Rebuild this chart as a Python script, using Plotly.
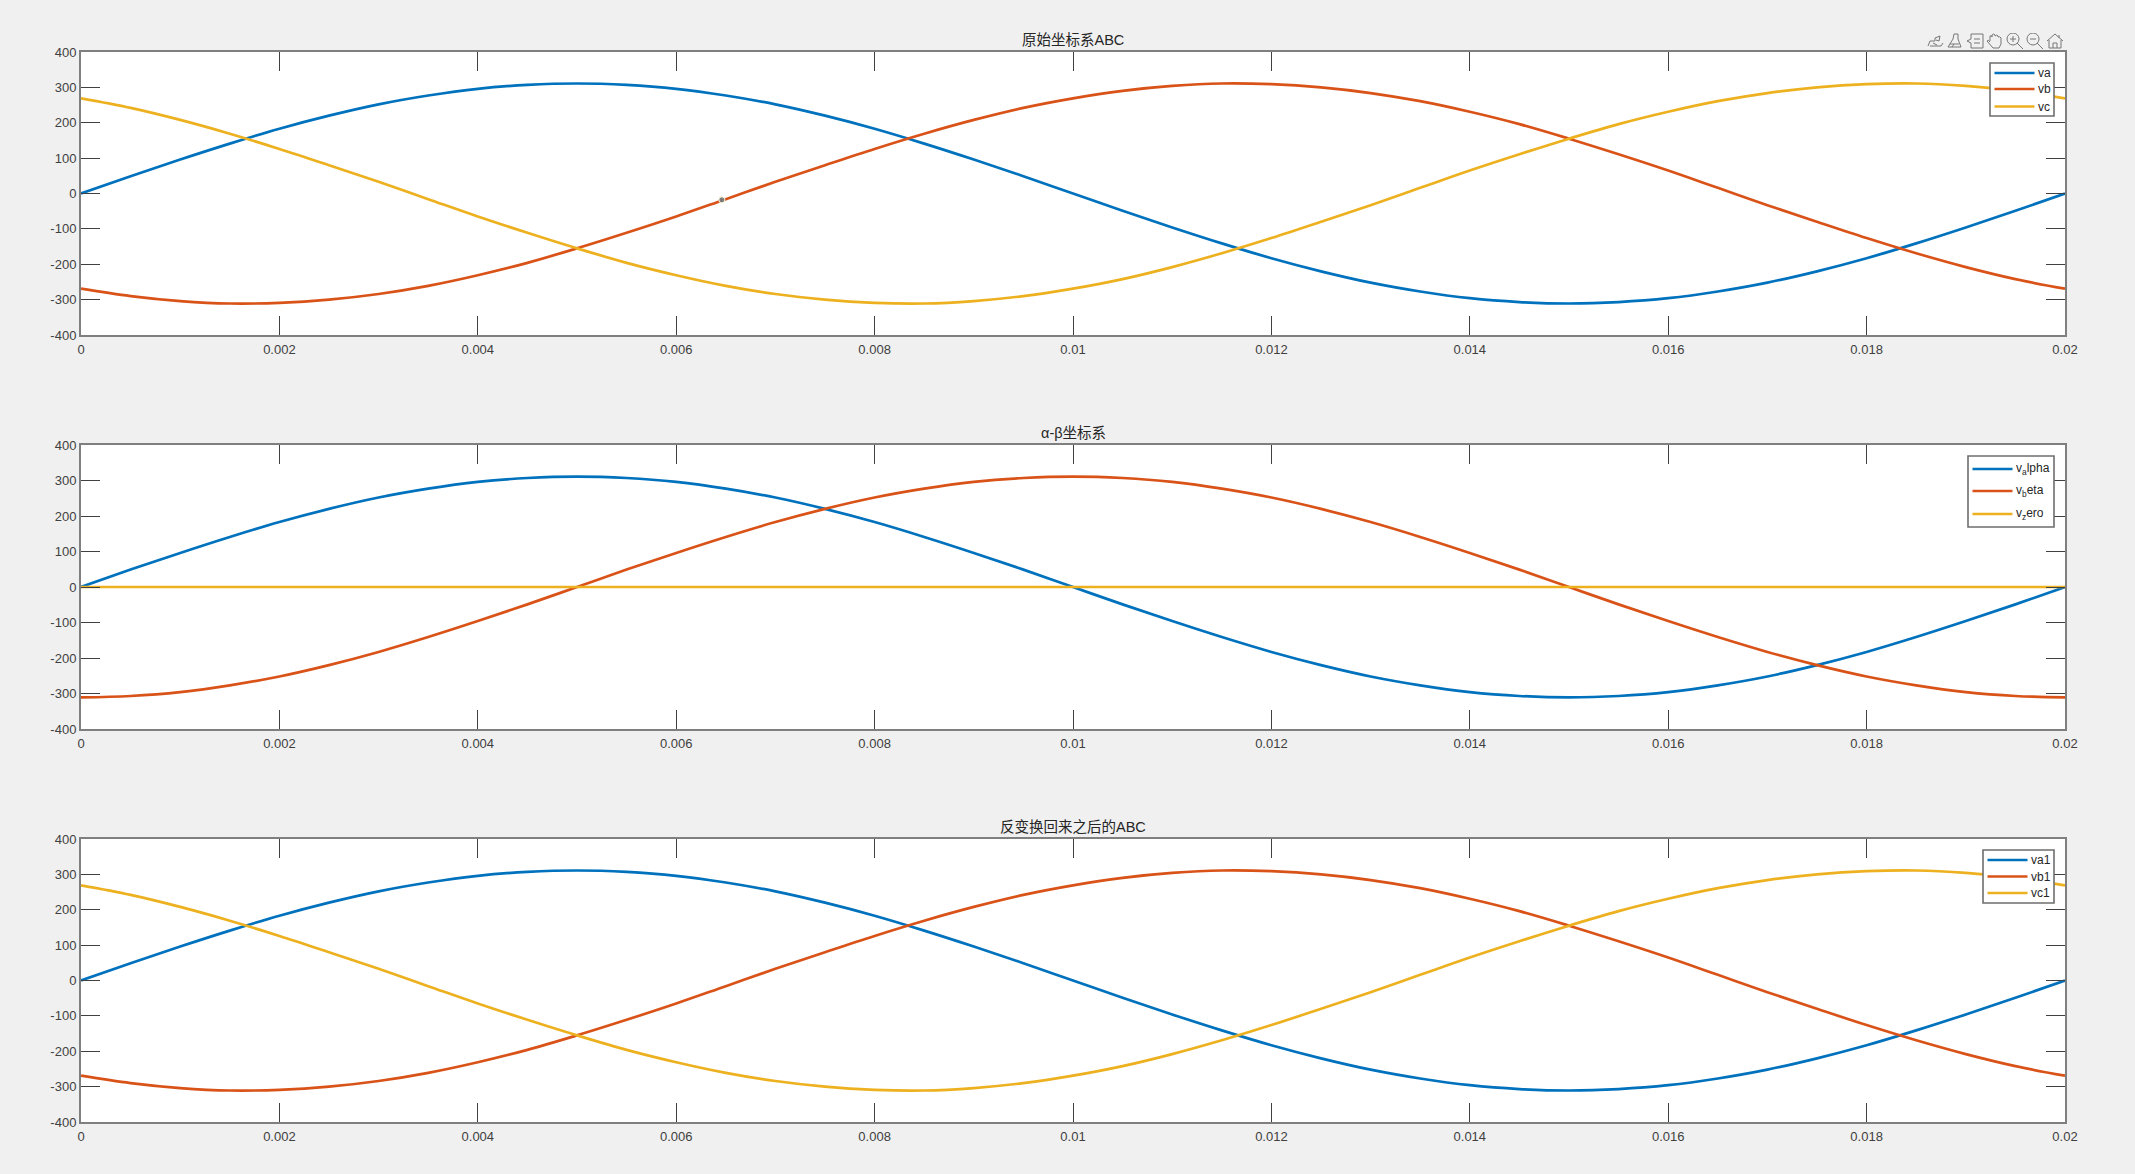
import base64
import plotly.graph_objects as go
from plotly.subplots import make_subplots

t = [0, 0.0005, 0.001, 0.0015, 0.002, 0.0025, 0.003, 0.0035, 0.004, 0.0045, 0.005,
     0.0055, 0.006, 0.0065, 0.007, 0.0075, 0.008, 0.0085, 0.009, 0.0095, 0.01,
     0.0105, 0.011, 0.0115, 0.012, 0.0125, 0.013, 0.0135, 0.014, 0.0145, 0.015,
     0.0155, 0.016, 0.0165, 0.017, 0.0175, 0.018, 0.0185, 0.019, 0.0195, 0.02]

va = [0, 49, 96, 141, 183, 220, 252, 277, 296, 307, 311,
      307, 296, 277, 252, 220, 183, 141, 96, 49, 0,
      -49, -96, -141, -183, -220, -252, -277, -296, -307, -311,
      -307, -296, -277, -252, -220, -183, -141, -96, -49, 0]
vb = [-269, -290, -304, -311, -309, -300, -284, -261, -231, -196, -155,
      -111, -65, -16, 33, 80, 126, 169, 208, 242, 269,
      290, 304, 311, 309, 300, 284, 261, 231, 196, 155,
      111, 65, 16, -33, -80, -126, -169, -208, -242, -269]
vc = [269, 242, 208, 169, 126, 80, 33, -16, -65, -111, -155,
      -196, -231, -261, -284, -300, -309, -311, -304, -290, -269,
      -242, -208, -169, -126, -80, -33, 16, 65, 111, 155,
      196, 231, 261, 284, 300, 309, 311, 304, 290, 269]

v_alpha = [0, 49, 96, 141, 183, 220, 252, 277, 296, 307, 311,
           307, 296, 277, 252, 220, 183, 141, 96, 49, 0,
           -49, -96, -141, -183, -220, -252, -277, -296, -307, -311,
           -307, -296, -277, -252, -220, -183, -141, -96, -49, 0]
v_beta = [-311, -307, -296, -277, -252, -220, -183, -141, -96, -49, 0,
          49, 96, 141, 183, 220, 252, 277, 296, 307, 311,
          307, 296, 277, 252, 220, 183, 141, 96, 49, 0,
          -49, -96, -141, -183, -220, -252, -277, -296, -307, -311]
v_zero = [0, 0, 0, 0, 0, 0, 0, 0, 0, 0, 0,
          0, 0, 0, 0, 0, 0, 0, 0, 0, 0,
          0, 0, 0, 0, 0, 0, 0, 0, 0, 0,
          0, 0, 0, 0, 0, 0, 0, 0, 0, 0]

va1 = [0, 49, 96, 141, 183, 220, 252, 277, 296, 307, 311,
       307, 296, 277, 252, 220, 183, 141, 96, 49, 0,
       -49, -96, -141, -183, -220, -252, -277, -296, -307, -311,
       -307, -296, -277, -252, -220, -183, -141, -96, -49, 0]
vb1 = [-269, -290, -304, -311, -309, -300, -284, -261, -231, -196, -155,
       -111, -65, -16, 33, 80, 126, 169, 208, 242, 269,
       290, 304, 311, 309, 300, 284, 261, 231, 196, 155,
       111, 65, 16, -33, -80, -126, -169, -208, -242, -269]
vc1 = [269, 242, 208, 169, 126, 80, 33, -16, -65, -111, -155,
       -196, -231, -261, -284, -300, -309, -311, -304, -290, -269,
       -242, -208, -169, -126, -80, -33, 16, 65, 111, 155,
       196, 231, 261, 284, 300, 309, 311, 304, 290, 269]

tip_t = [0.00646]
tip_v = [-18]

x_ticks = [0, 0.002, 0.004, 0.006, 0.008, 0.01, 0.012, 0.014, 0.016, 0.018, 0.02]
x_labels = ["0", "0.002", "0.004", "0.006", "0.008", "0.01", "0.012", "0.014", "0.016", "0.018", "0.02"]
y_ticks = [-400, -300, -200, -100, 0, 100, 200, 300, 400]
y_labels = ["-400", "-300", "-200", "-100", "0", "100", "200", "300", "400"]

titles = ["原始坐标系ABC", "α-β坐标系", "反变换回来之后的ABC"]
names = [["va", "vb", "vc"],
         ["v<sub>a</sub>lpha", "v<sub>b</sub>eta", "v<sub>z</sub>ero"],
         ["va1", "vb1", "vc1"]]
series = [[va, vb, vc], [v_alpha, v_beta, v_zero], [va1, vb1, vc1]]
colors = ["#0072BD", "#D95319", "#EDB120"]

W, H = 2135, 1174
LEFT, RIGHT = 81, 2065
PANELS = [(52, 335), (445, 729), (839, 1122)]
# legend boxes in pixels: left, top, right, bottom, and the three row centres
LEGEND_BOXES = [(1990, 63, 2054, 116, (73, 89, 106.5)),
                (1968, 456, 2054, 527, (469, 491, 514)),
                (1983, 850, 2054, 903, (860, 876.5, 893))]
FONT = "Liberation Sans, Arial, Noto Sans CJK SC"


def px(x):
    return x / W


def py(y):
    return 1 - y / H


fig = make_subplots(rows=3, cols=1)
for p, (ser, nm) in enumerate(zip(series, names), start=1):
    for s, n, c in zip(ser, nm, colors):
        fig.add_trace(go.Scatter(x=t, y=s, mode="lines", name=n, showlegend=False,
                                 line=dict(color=c, width=2.7, shape="spline", smoothing=1)),
                      row=p, col=1)
fig.add_trace(go.Scatter(x=tip_t, y=tip_v, mode="markers", showlegend=False,
                         marker=dict(color="#7a7a7a", size=6,
                                     line=dict(color="#fff8d8", width=1))),
              row=1, col=1)

axis_common = dict(showgrid=False, zeroline=False, showline=True, linecolor="#7f7f7f",
                   linewidth=2, mirror="ticks", ticks="inside", ticklen=19,
                   tickcolor="#404040", tickwidth=1, automargin=False,
                   tickfont=dict(family=FONT, size=13, color="#404040"))
for i, (top, bottom) in enumerate(PANELS, start=1):
    fig.update_xaxes(axis_common, row=i, col=1, range=[0, 0.02], tickvals=x_ticks,
                     ticktext=x_labels, domain=[px(LEFT), px(RIGHT)], ticklabelstandoff=1)
    fig.update_yaxes(axis_common, row=i, col=1, range=[-400, 400], tickvals=y_ticks,
                     ticktext=y_labels, domain=[py(bottom), py(top)])
    xa = "x" if i == 1 else f"x{i}"
    ya = "y" if i == 1 else f"y{i}"
    fig.add_annotation(text=titles[i - 1], xref=f"{xa} domain", yref=f"{ya} domain",
                       x=0.5, y=1, xanchor="center", yanchor="bottom", yshift=2,
                       showarrow=False, font=dict(family=FONT, size=14.5, color="#262626"))

for (l, tp, r, b, rows), nm in zip(LEGEND_BOXES, names):
    fig.add_shape(type="rect", xref="paper", yref="paper", layer="above",
                  x0=px(l), x1=px(r), y0=py(b), y1=py(tp), fillcolor="white",
                  line=dict(color="#6e6e6e", width=1.6))
    for row_y, n, c in zip(rows, nm, colors):
        fig.add_shape(type="line", xref="paper", yref="paper", layer="above",
                      x0=px(l + 4.5), x1=px(l + 44.5), y0=py(row_y), y1=py(row_y),
                      line=dict(color=c, width=2.7))
        fig.add_annotation(text=n, xref="paper", yref="paper", x=px(l + 47), y=py(row_y),
                           xanchor="left", yanchor="middle", showarrow=False,
                           borderpad=0, font=dict(family=FONT, size=12, color="#262626"))

toolbar_svg = """<svg xmlns='http://www.w3.org/2000/svg' width='136' height='16' viewBox='0 0 136 16'>
<g fill='none' stroke='#777' stroke-width='1'>
<path d='M1 13 L3 8 L8 8 L8 5 L13 3 L12 8 L9 7 M3 13 H14 L16 10 M6 10 L10 12'/>
<path d='M27 1 H31 V6 L34 14 H21 L26 6 Z M23 11 L32 11 M25 14 L27 11'/>
<path d='M44 1 H56 V15 H44 V10 L40 8 L44 6 Z M47 6 H53 M47 10 H53'/>
<path d='M63 8 V3 Q65 2 65 4 V2 Q67 0 68 2 V3 Q70 1 71 3 V4 Q73 3 74 5 V11 L72 15 H66 L60 8 Q61 6 63 9'/>
<circle cx='86' cy='6' r='6'/><path d='M90 10 L96 16 M83 6 H89 M86 3 V9'/>
<circle cx='106' cy='6' r='6'/><path d='M110 10 L116 16 M103 6 H109'/>
<path d='M120 8 L128 1 L136 8 M122 7 V15 H134 V7 M126 15 V10 H130 V15 M132 2 V5'/>
</g></svg>"""
toolbar_src = "data:image/svg+xml;base64," + base64.b64encode(toolbar_svg.encode()).decode()

fig.update_layout(width=W, height=H, margin=dict(l=0, r=0, t=0, b=0, autoexpand=False), autosize=False,
                  paper_bgcolor="#f0f0f0", plot_bgcolor="white",
                  font=dict(family=FONT), showlegend=False,
                  images=[dict(source=toolbar_src, xref="paper", yref="paper",
                               x=px(1927), y=py(33), sizex=136 / W, sizey=16 / H,
                               xanchor="left", yanchor="top", sizing="stretch", layer="above")])

fig.write_html("out.html", config=dict(displayModeBar=False),
               post_script="document.body.style.margin='0';document.body.style.background='#f0f0f0';")
